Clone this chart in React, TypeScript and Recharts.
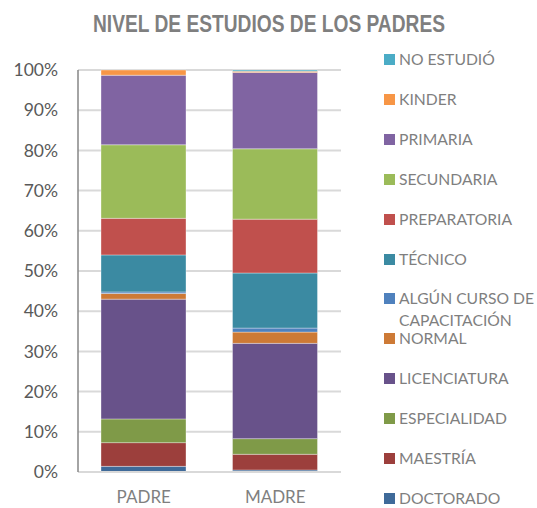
import React from "react";
import { Bar, BarChart, CartesianGrid, XAxis, YAxis } from "recharts";

const categories = ["PADRE", "MADRE"];

// bottom to top, as stacked
const seriesNames = [
  "DOCTORADO",
  "MAESTRÍA",
  "ESPECIALIDAD",
  "LICENCIATURA",
  "NORMAL",
  "ALGÚN CURSO DE CAPACITACIÓN",
  "TÉCNICO",
  "PREPARATORIA",
  "SECUNDARIA",
  "PRIMARIA",
  "KINDER",
  "NO ESTUDIÓ",
];

const padre = [1.4, 5.9, 5.9, 29.8, 1.4, 0.4, 9.2, 9.1, 18.3, 17.3, 1.3, 0];
const madre = [0.5, 3.9, 3.9, 23.7, 2.8, 1.0, 13.7, 13.4, 17.5, 19.0, 0.3, 0.3];

const colors = [
  "#3f6a99",
  "#9c3f3c",
  "#7f9a48",
  "#68528a",
  "#cd7a36",
  "#4f81bd",
  "#3b8aa2",
  "#c0504d",
  "#9bbb59",
  "#8064a2",
  "#f79646",
  "#4bacc6",
];

const yTicks = [0, 10, 20, 30, 40, 50, 60, 70, 80, 90, 100];

const values = [padre, madre];
const data = categories.map((name, i) => {
  const row: Record<string, string | number> = { name };
  seriesNames.forEach((s, j) => {
    row[s] = values[i][j];
  });
  return row;
});

const labelFont = "Lato, 'Open Sans', sans-serif";

function LegendBox() {
  const items = [...seriesNames].reverse();
  const legendColors = [...colors].reverse();
  return (
    <div style={{ position: "absolute", left: 384, top: 0, width: 153 }}>
      {items.map((name, i) => {
        const center = 59.5 + i * 39.9;
        const wraps = name.length > 20;
        const lh = wraps ? 21.7 : 17;
        return (
          <div
            key={name}
            style={{
              position: "absolute",
              top: center - lh / 2,
              left: 0,
              display: "flex",
              alignItems: "flex-start",
              width: 153,
            }}
          >
            <span
              style={{
                display: "inline-block",
                width: 11,
                height: 11,
                marginTop: lh / 2 - 5.5,
                background: legendColors[i],
                flexShrink: 0,
              }}
            />
            <span
              style={{
                marginLeft: 4,
                fontFamily: labelFont,
                fontSize: 15.7,
                lineHeight: `${lh}px`,
                color: "#7f7f7f",
                width: 138,
              }}
            >
              {name}
            </span>
          </div>
        );
      })}
    </div>
  );
}

export default function App() {
  return (
    <div
      style={{
        position: "absolute",
        left: 0,
        top: 0,
        width: 537,
        height: 508,
        background: "#fff",
      }}
    >
      <svg
        width={537}
        height={50}
        style={{ position: "absolute", left: 0, top: 0 }}
      >
        <text
          x={93}
          y={32}
          textLength={352}
          lengthAdjust="spacingAndGlyphs"
          fontFamily="'Liberation Sans', Arial, sans-serif"
          fontWeight="bold"
          fontSize={24}
          fill="#7f7f7f"
        >
          NIVEL DE ESTUDIOS DE LOS PADRES
        </text>
      </svg>
      <BarChart
        width={537}
        height={508}
        data={data}
        margin={{ top: 70, right: 196, bottom: 0, left: 18 }}
        barSize={85}
      >
        <CartesianGrid vertical={false} stroke="#d9d9d9" strokeWidth={2} />
        <XAxis
          dataKey="name"
          height={36}
          axisLine={{ stroke: "#d9d9d9", strokeWidth: 2 }}
          tickLine={false}
          tick={{ fill: "#7f7f7f", fontSize: 17, fontFamily: labelFont }}
          dy={11}
        />
        <YAxis
          width={60}
          domain={[0, 100]}
          ticks={yTicks}
          interval={0}
          tickFormatter={(v: number) => `${v}%`}
          axisLine={{ stroke: "#868686", strokeWidth: 1.5 }}
          tickLine={false}
          tick={{ fill: "#595959", fontSize: 17.5, fontFamily: labelFont }}
          dx={-12}
        />
        {seriesNames.map((s, i) => (
          <Bar
            key={s}
            dataKey={s}
            stackId="a"
            fill={colors[i]}
            stroke="rgba(255,255,255,0.35)"
            strokeWidth={1}
            isAnimationActive={false}
          />
        ))}
      </BarChart>
      <LegendBox />
    </div>
  );
}
